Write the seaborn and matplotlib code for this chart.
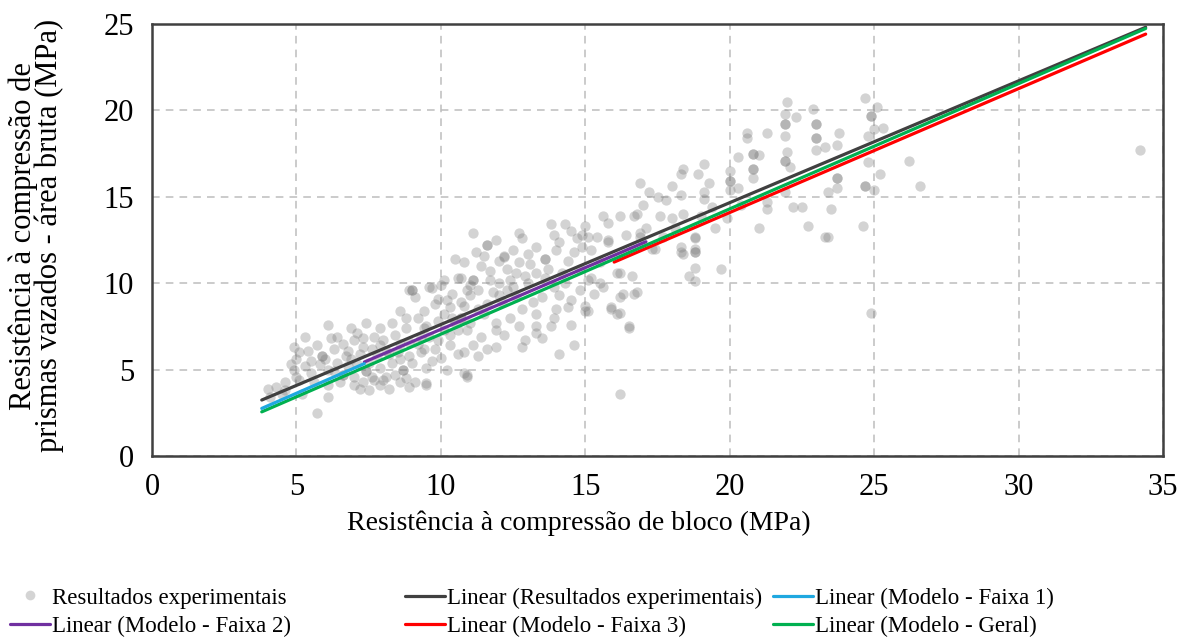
import matplotlib
matplotlib.use("Agg")
import matplotlib.pyplot as plt
import seaborn as sns
import numpy as np
import pandas as pd
from matplotlib.lines import Line2D

# Experimental results: block compressive strength (MPa) vs. hollow prism strength, gross area (MPa)
block_mpa = [
    4.0, 4.3, 4.1, 4.5, 4.6, 4.9, 4.9, 5.0, 5.1, 5.3,
    5.4, 5.1, 5.5, 5.7, 5.2, 5.9, 6.1, 6.1, 6.1, 6.1,
    6.3, 6.6, 6.6, 6.8, 6.8, 5.5, 5.8, 6.0, 6.4, 6.9,
    6.2, 5.6, 6.5, 4.8, 5.9, 6.6,
    7.0, 7.1, 7.2, 7.2, 7.4, 7.4, 7.6, 7.7, 7.9, 7.9,
    7.9, 8.1, 8.1, 8.6, 8.6, 8.7, 8.8, 8.8, 8.9, 8.9,
    9.0, 9.1, 9.2, 9.3, 9.4, 9.5, 9.5, 9.6, 9.9, 7.3,
    7.5, 7.8, 8.3, 8.4, 8.0, 7.0, 7.7, 8.4, 8.8, 9.0,
    9.2, 9.6, 9.8, 8.6, 9.7, 9.9, 9.4, 9.5, 9.3, 9.9,
    9.4, 7.4, 8.7, 9.0, 9.5, 8.2, 7.5, 8.9, 9.1, 7.3,
    5.3, 5.7, 6.3, 6.7, 7.1, 7.6, 8.2, 8.5, 8.0, 7.3,
    6.9, 8.3, 8.9, 9.7, 5.0, 4.6, 6.4, 7.0, 7.9, 8.6,
    10.0, 10.0, 10.1, 10.2, 10.3, 10.4, 10.2, 10.6, 10.8, 10.8,
    10.8, 10.9, 11.0, 10.9, 10.4, 11.0, 10.7, 11.6, 12.6, 12.1,
    13.2, 14.1, 14.4, 15.0, 15.1, 13.3, 13.8, 14.5, 10.1, 10.7,
    11.5, 11.9, 12.4, 12.7, 13.3, 10.1, 10.6, 11.4, 11.1, 11.6,
    11.9, 12.9, 14.6, 10.9, 15.8, 16.8, 13.8, 14.3, 11.1, 12.7,
    11.9, 11.6, 13.3, 14.0, 12.2, 13.0, 13.6, 12.0, 12.7, 14.4,
    14.7, 14.9, 14.9, 15.2, 15.8, 11.4, 11.7, 12.3, 13.3, 12.9,
    10.7, 11.1, 11.7, 12.0, 13.9, 14.3, 15.2, 15.3, 16.1, 16.3,
    15.9, 16.8, 16.1, 16.5, 12.8, 14.1, 13.3, 14.5, 14.0, 15.0,
    11.3, 11.9, 10.6, 12.8, 12.2, 13.6, 10.7, 11.1, 11.6, 12.5,
    13.0, 13.6, 14.8, 15.5, 13.9, 12.4, 11.3, 15.6, 14.5, 10.5,
    10.3, 10.9, 11.3, 11.8, 12.3, 12.8, 13.5, 13.7, 14.2, 14.8,
    15.5, 12.5, 13.1, 11.2, 10.5, 14.1, 15.0, 15.4, 12.0, 13.9,
    11.0, 12.2, 13.5, 10.3, 9.8, 15.6, 14.6, 12.6, 11.5, 10.8,
    15.1, 15.8, 16.4, 16.9, 17.4, 18.3, 18.8, 18.8, 18.8, 18.6,
    18.8, 19.7, 16.2, 16.6, 16.7, 16.2, 15.9, 16.2, 16.5, 16.2,
    24.9, 23.3, 15.1, 22.0, 22.9, 24.7, 21.9, 22.3, 24.9, 23.0,
    21.9, 20.6, 21.3, 23.8, 25.0, 20.6, 21.9, 23.0, 23.3, 23.7,
    24.8, 23.0, 22.0, 20.8, 19.1, 20.3, 21.0, 21.9, 22.1, 18.4,
    18.3, 20.8, 20.8, 20.0, 20.0, 20.0, 20.3, 19.1, 19.1, 18.0,
    17.5, 16.9, 18.3, 23.7, 23.7, 23.4, 24.7, 25.0, 21.9, 21.3,
    21.3, 22.2, 22.5, 23.5, 16.2, 16.7, 17.6, 18.0, 18.4, 21.0,
    22.7, 23.4, 24.6, 19.5, 18.8, 17.3, 18.8, 18.3, 18.4, 17.1,
    16.9, 18.1, 26.2, 26.6, 34.2, 25.3, 20.8, 21.9, 21.9, 23.0,
    23.0, 24.9, 23.7, 24.7, 20.0, 18.8, 20.8, 25.1, 24.8, 25.2,
    17.0, 17.8, 19.0, 19.4, 17.7, 19.3, 18.9, 17.2, 19.9, 20.4,
]
prism_mpa = [
    3.9, 4.0, 3.4, 3.6, 4.3, 5.0, 6.3, 4.6, 4.4, 6.9,
    6.1, 6.0, 4.8, 2.5, 3.6, 5.8, 7.6, 5.0, 4.1, 3.4,
    6.2, 6.5, 4.7, 5.2, 6.1, 5.5, 5.3, 5.6, 5.4, 5.6,
    6.8, 4.3, 4.3, 5.3, 5.8, 4.7,
    4.1, 7.1, 5.9, 3.9, 7.7, 4.9, 4.6, 6.9, 7.4, 5.1,
    4.1, 6.1, 4.6, 6.5, 4.3, 5.0, 7.4, 8.0, 5.8, 9.6,
    9.6, 9.2, 8.0, 6.0, 7.4, 5.1, 4.2, 9.8, 7.8, 6.3,
    5.4, 5.8, 5.4, 7.0, 6.7, 4.6, 4.4, 4.7, 4.5, 5.4,
    6.5, 6.9, 6.2, 8.4, 9.7, 9.1, 8.4, 7.5, 6.9, 6.7,
    6.2, 4.9, 5.0, 9.6, 4.1, 3.9, 3.8, 4.0, 4.3, 6.8,
    5.2, 6.4, 4.9, 5.8, 5.3, 6.2, 5.9, 6.0, 4.4, 4.3,
    7.4, 7.7, 6.6, 5.5, 5.6, 3.8, 6.9, 6.7, 6.4, 5.6,
    5.7, 9.9, 10.2, 5.0, 6.4, 8.0, 9.0, 10.3, 8.7, 6.0,
    4.8, 7.3, 9.9, 4.6, 9.4, 9.3, 8.9, 8.8, 9.2, 8.9,
    8.9, 9.3, 8.6, 8.7, 8.4, 8.2, 7.5, 7.6, 8.2, 8.0,
    8.2, 7.7, 8.0, 7.5, 7.5, 7.3, 7.3, 6.9, 6.4, 6.2,
    7.3, 6.7, 6.4, 4.7, 13.5, 14.0, 13.4, 13.4, 12.9, 12.9,
    12.5, 12.2, 12.1, 11.9, 11.6, 11.7, 11.4, 11.3, 11.2, 11.3,
    12.6, 12.8, 12.1, 11.9, 12.4, 11.0, 10.7, 10.8, 10.6, 10.4,
    10.3, 10.2, 10.2, 10.0, 9.8, 10.0, 10.3, 9.4, 10.6, 9.4,
    8.6, 9.5, 8.2, 7.5, 6.3, 5.9, 7.1, 9.0, 8.5, 8.4,
    5.8, 6.3, 5.9, 12.6, 11.5, 11.4, 8.0, 10.2, 12.2, 9.8,
    10.0, 10.3, 10.8, 11.2, 12.8, 10.2, 9.6, 13.9, 13.0, 7.7,
    8.6, 9.6, 8.5, 9.5, 9.6, 8.5, 9.2, 10.8, 10.6, 9.6,
    10.0, 11.9, 11.1, 11.8, 11.4, 12.4, 13.3, 12.7, 9.3, 8.0,
    7.7, 7.0, 6.8, 7.0, 8.8, 9.8, 11.8, 10.6, 11.6, 11.2,
    12.7, 12.5, 12.8, 12.9, 12.0, 11.8, 12.6, 11.8, 10.9, 10.4,
    10.1, 10.8, 10.6, 10.4, 9.4, 9.2, 8.5, 8.3, 7.4, 3.6,
    8.3, 12.7, 10.2, 20.5, 20.1, 20.7, 19.8, 19.6, 19.7, 19.2,
    19.2, 18.7, 18.7, 18.7, 18.9, 18.4, 18.5, 18.4, 17.9, 18.0,
    18.5, 17.7, 17.6, 17.5, 16.9, 17.3, 17.4, 17.1, 16.7, 16.6,
    16.3, 16.6, 16.1, 16.5, 15.9, 15.4, 15.5, 15.3, 14.9, 15.6,
    15.0, 15.8, 15.1, 16.1, 15.5, 15.3, 15.6, 15.4, 15.3, 14.7,
    14.3, 14.4, 14.4, 14.3, 13.9, 13.9, 13.9, 13.8, 14.0, 13.2,
    13.3, 12.7, 13.3, 13.2, 12.7, 12.0, 12.0, 12.1, 11.7, 13.2,
    12.7, 13.2, 17.1, 15.6, 17.7, 19.0, 17.5, 17.1, 19.2, 18.4,
    19.2, 19.7, 16.1, 15.6, 15.9, 11.8, 16.6, 20.2, 17.0, 16.3,
    14.5, 14.8, 13.9, 14.4, 12.7, 15.8, 16.3, 15.3, 13.8, 14.5,
]

# Linear trendlines: label, colour, x range and coefficients (y = a*x + b)
trend_names = [
    "Linear (Resultados experimentais)",
    "Linear (Modelo - Faixa 1)",
    "Linear (Modelo - Faixa 2)",
    "Linear (Modelo - Faixa 3)",
    "Linear (Modelo - Geral)",
]
trend_colors = ["#404040", "#1FA8E0", "#7030A0", "#FF0000", "#00B050"]
trend_x_start = [3.8, 3.8, 7.35, 16.0, 3.8]
trend_x_end = [34.4, 7.35, 17.1, 34.4, 34.4]
trend_slope = [0.705, 0.73, 0.714, 0.717, 0.725]
trend_intercept = [0.56, -0.02, 0.19, -0.25, -0.20]

x_ticks = [0, 5, 10, 15, 20, 25, 30, 35]
y_ticks = [0, 5, 10, 15, 20, 25]

assert len(block_mpa) == len(prism_mpa)

sns.set_theme(style="white")
plt.rcParams["font.family"] = ["Liberation Serif", "DejaVu Serif"]
plt.rcParams["text.color"] = "black"
plt.rcParams["axes.labelcolor"] = "black"

fig = plt.figure(figsize=(11.9, 6.37), dpi=100)
ax = fig.add_axes([152 / 1190, 1 - 456 / 637, (1163 - 152) / 1190, (456 - 24) / 637])

df = pd.DataFrame({"bloco": block_mpa, "prisma": prism_mpa})
sns.scatterplot(data=df, x="bloco", y="prisma", ax=ax, color="#7a7a7a",
                alpha=0.33, s=55, linewidth=0, legend=False, zorder=2)

draw_order = [0, 3, 4, 2, 1]
trend_handles = {}
for i in draw_order:
    xs = np.array([trend_x_start[i], trend_x_end[i]])
    line_df = pd.DataFrame({"x": xs, "y": trend_slope[i] * xs + trend_intercept[i]})
    sns.lineplot(data=line_df, x="x", y="y", ax=ax, color=trend_colors[i],
                 linewidth=2.3, legend=False, zorder=3)
    trend_handles[i] = Line2D([], [], color=trend_colors[i], linewidth=2.3)

ax.set_xlim(0, 35)
ax.set_ylim(0, 25)
ax.set_xticks(x_ticks)
ax.set_yticks(y_ticks)
ax.grid(True, color="#bdbdbd", linestyle=(0, (5, 4)), linewidth=1.1)
ax.set_axisbelow(True)
for sp in ax.spines.values():
    sp.set_visible(True)
    sp.set_color("#404040")
    sp.set_linewidth(1.8)
ax.tick_params(axis="both", length=0, labelsize=22, colors="#000000")
ax.tick_params(axis="x", pad=12)
ax.tick_params(axis="y", pad=13)

ax.set_xlabel("Resistência à compressão de bloco (MPa)", fontsize=20)
ax.xaxis.set_label_coords((579 - 152) / 1011, -0.125)
ax.set_ylabel("Resistência à compressão de\nprismas vazados - área bruta (MPa)",
              fontsize=22, linespacing=0.85, multialignment="center")
ax.yaxis.set_label_coords((64 - 152) / 1011, 0.51)

scatter_handle = Line2D([], [], linestyle="none", marker="o", markersize=7,
                        markerfacecolor="#d4d4d4", markeredgecolor="none")

columns = [
    (10, [scatter_handle, trend_handles[2]], ["Resultados experimentais", trend_names[2]]),
    (405, [trend_handles[0], trend_handles[3]], [trend_names[0], trend_names[3]]),
    (773, [trend_handles[1], trend_handles[4]], [trend_names[1], trend_names[4]]),
]
for x_px, hs, labels in columns:
    fig.legend(hs, labels, loc="center left",
               bbox_to_anchor=(x_px / 1190, 1 - 612 / 637),
               frameon=False, fontsize=16.5, handlelength=1.75, handletextpad=0.1,
               borderpad=0, borderaxespad=0, labelspacing=0.3)

fig.savefig("out.png", dpi=100)
